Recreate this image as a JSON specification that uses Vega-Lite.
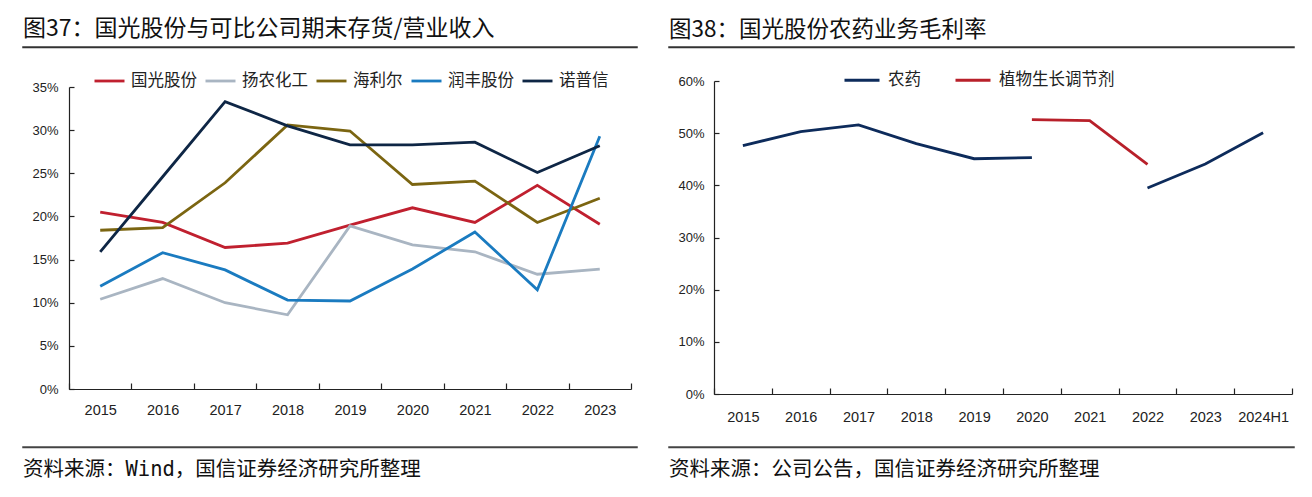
{
  "$schema": "https://vega.github.io/schema/vega-lite/v6.json",
  "padding": {"left": 22, "top": 17, "right": 0, "bottom": 0},
  "config": {
    "font": "Liberation Sans, Noto Sans CJK SC",
    "view": {"stroke": null},
    "axis": {"labelFont": "Liberation Sans", "labelColor": "#222", "domainColor": "#222", "tickColor": "#222", "domainWidth": 1.2, "tickWidth": 1.2, "grid": false, "title": null}
  },
  "spacing": 30,
  "resolve": {"scale": {"color": "independent"}, "legend": {"color": "independent"}},
  "hconcat": [
    {
      "spacing": 32,
      "vconcat": [
        {
          "width": 614, "height": 0.5,
          "view": {"stroke": "#333", "strokeWidth": 1.5},
          "title": {"text": "图37：国光股份与可比公司期末存货/营业收入", "anchor": "start", "fontSize": 23, "fontWeight": "normal", "font": "Noto Sans CJK SC", "offset": 6, "color": "#111"},
          "data": {"values": []},
          "mark": {"type": "rule"},
          "encoding": {}
        },
        {
          "spacing": 22,
          "vconcat": [
            {
              "width": 614, "height": 302,
              "data": {"values": [
                {"year": "2015", "company": "国光股份", "value": 20.5},
                {"year": "2016", "company": "国光股份", "value": 19.3},
                {"year": "2017", "company": "国光股份", "value": 16.4},
                {"year": "2018", "company": "国光股份", "value": 16.9},
                {"year": "2019", "company": "国光股份", "value": 19.0},
                {"year": "2020", "company": "国光股份", "value": 21.0},
                {"year": "2021", "company": "国光股份", "value": 19.3},
                {"year": "2022", "company": "国光股份", "value": 23.6},
                {"year": "2023", "company": "国光股份", "value": 19.1},
                {"year": "2015", "company": "扬农化工", "value": 10.4},
                {"year": "2016", "company": "扬农化工", "value": 12.8},
                {"year": "2017", "company": "扬农化工", "value": 10.0},
                {"year": "2018", "company": "扬农化工", "value": 8.6},
                {"year": "2019", "company": "扬农化工", "value": 18.9},
                {"year": "2020", "company": "扬农化工", "value": 16.7},
                {"year": "2021", "company": "扬农化工", "value": 15.9},
                {"year": "2022", "company": "扬农化工", "value": 13.3},
                {"year": "2023", "company": "扬农化工", "value": 13.9},
                {"year": "2015", "company": "海利尔", "value": 18.4},
                {"year": "2016", "company": "海利尔", "value": 18.7},
                {"year": "2017", "company": "海利尔", "value": 23.9},
                {"year": "2018", "company": "海利尔", "value": 30.6},
                {"year": "2019", "company": "海利尔", "value": 29.9},
                {"year": "2020", "company": "海利尔", "value": 23.7},
                {"year": "2021", "company": "海利尔", "value": 24.1},
                {"year": "2022", "company": "海利尔", "value": 19.3},
                {"year": "2023", "company": "海利尔", "value": 22.1},
                {"year": "2015", "company": "润丰股份", "value": 11.9},
                {"year": "2016", "company": "润丰股份", "value": 15.8},
                {"year": "2017", "company": "润丰股份", "value": 13.8},
                {"year": "2018", "company": "润丰股份", "value": 10.3},
                {"year": "2019", "company": "润丰股份", "value": 10.2},
                {"year": "2020", "company": "润丰股份", "value": 13.9},
                {"year": "2021", "company": "润丰股份", "value": 18.2},
                {"year": "2022", "company": "润丰股份", "value": 11.5},
                {"year": "2023", "company": "润丰股份", "value": 29.3},
                {"year": "2015", "company": "诺普信", "value": 15.9},
                {"year": "2016", "company": "诺普信", "value": 24.6},
                {"year": "2017", "company": "诺普信", "value": 33.3},
                {"year": "2018", "company": "诺普信", "value": 30.5},
                {"year": "2019", "company": "诺普信", "value": 28.3},
                {"year": "2020", "company": "诺普信", "value": 28.3},
                {"year": "2021", "company": "诺普信", "value": 28.6},
                {"year": "2022", "company": "诺普信", "value": 25.1},
                {"year": "2023", "company": "诺普信", "value": 28.2}
              ]},
              "mark": {"type": "line", "strokeWidth": 2.8},
              "encoding": {
                "x": {"field": "year", "type": "ordinal", "bandPosition": 0.5,
                  "scale": {"type": "band", "paddingInner": 0, "paddingOuter": 0, "range": [46, 608]},
                  "axis": {"labelAngle": 0, "tickBand": "extent", "tickSize": -6, "labelPadding": 20, "labelFontSize": 14.5, "minExtent": 35}},
                "y": {"field": "value", "type": "quantitative",
                  "scale": {"domain": [0, 35], "nice": false},
                  "axis": {"values": [0, 5, 10, 15, 20, 25, 30, 35], "labelExpr": "datum.value + '%'", "offset": -46, "tickSize": -5, "labelPadding": 16, "labelFontSize": 13}},
                "color": {"field": "company", "type": "nominal",
                  "scale": {"domain": ["国光股份", "扬农化工", "海利尔", "润丰股份", "诺普信"], "range": ["#C0202F", "#A9B5C2", "#7B6511", "#1A7BC0", "#0E2645"]},
                  "legend": {"orient": "none", "legendX": 70, "legendY": 17.5, "direction": "horizontal", "title": null, "symbolType": "stroke", "symbolSize": 900, "symbolStrokeWidth": 2.8, "labelFontSize": 16.5, "labelFont": "Noto Sans CJK SC", "labelColor": "#222", "columnPadding": 2, "labelOffset": 5}}
              }
            },
            {
              "width": 614, "height": 0.5,
              "view": {"stroke": "#444", "strokeWidth": 1.5},
              "title": {"text": "资料来源：Wind，国信证券经济研究所整理", "orient": "bottom", "anchor": "start", "fontSize": 20.5, "fontWeight": "normal", "font": "DejaVu Sans Mono, Noto Sans CJK SC", "offset": 12, "color": "#111"},
              "data": {"values": []},
              "mark": {"type": "rule"},
              "encoding": {}
            }
          ]
        }
      ]
    },
    {
      "spacing": 26,
      "vconcat": [
        {
          "width": 625, "height": 0.5,
          "view": {"stroke": "#333", "strokeWidth": 1.5},
          "title": {"text": "图38：国光股份农药业务毛利率", "anchor": "start", "fontSize": 22.5, "fontWeight": "normal", "font": "Noto Sans CJK SC", "offset": 6, "color": "#111"},
          "data": {"values": []},
          "mark": {"type": "rule"},
          "encoding": {}
        },
        {
          "spacing": 21,
          "vconcat": [
            {
              "width": 625, "height": 313,
              "data": {"values": [
                {"year": "2015", "series": "农药", "value": 47.6},
                {"year": "2016", "series": "农药", "value": 50.3},
                {"year": "2017", "series": "农药", "value": 51.6},
                {"year": "2018", "series": "农药", "value": 48.0},
                {"year": "2019", "series": "农药", "value": 45.1},
                {"year": "2020", "series": "农药", "value": 45.3},
                {"year": "2021", "series": "农药", "value": null},
                {"year": "2022", "series": "农药", "value": 39.5},
                {"year": "2023", "series": "农药", "value": 44.1},
                {"year": "2024H1", "series": "农药", "value": 50.1},
                {"year": "2020", "series": "植物生长调节剂", "value": 52.6},
                {"year": "2021", "series": "植物生长调节剂", "value": 52.4},
                {"year": "2022", "series": "植物生长调节剂", "value": 44.0}
              ]},
              "mark": {"type": "line", "strokeWidth": 2.8},
              "encoding": {
                "x": {"field": "year", "type": "ordinal", "bandPosition": 0.5,
                  "scale": {"type": "band", "paddingInner": 0, "paddingOuter": 0, "range": [45, 623], "domain": ["2015", "2016", "2017", "2018", "2019", "2020", "2021", "2022", "2023", "2024H1"]},
                  "axis": {"labelAngle": 0, "tickBand": "extent", "tickSize": -6, "labelPadding": 22, "labelFontSize": 14.5, "minExtent": 31}},
                "y": {"field": "value", "type": "quantitative",
                  "scale": {"domain": [0, 60], "nice": false},
                  "axis": {"values": [0, 10, 20, 30, 40, 50, 60], "labelExpr": "datum.value + '%'", "offset": -45, "tickSize": -5, "labelPadding": 15, "labelFontSize": 13}},
                "color": {"field": "series", "type": "nominal",
                  "scale": {"domain": ["农药", "植物生长调节剂"], "range": ["#0D2B5B", "#B8202A"]},
                  "legend": {"orient": "none", "legendX": 174, "legendY": 14, "direction": "horizontal", "title": null, "symbolType": "stroke", "symbolSize": 1225, "symbolStrokeWidth": 2.8, "labelFontSize": 16.5, "labelFont": "Noto Sans CJK SC", "labelColor": "#222", "columnPadding": 28, "labelOffset": 7}}
              }
            },
            {
              "width": 625, "height": 0.5,
              "view": {"stroke": "#444", "strokeWidth": 1.5},
              "title": {"text": "资料来源：公司公告，国信证券经济研究所整理", "orient": "bottom", "anchor": "start", "fontSize": 20.5, "fontWeight": "normal", "font": "DejaVu Sans Mono, Noto Sans CJK SC", "offset": 12, "color": "#111"},
              "data": {"values": []},
              "mark": {"type": "rule"},
              "encoding": {}
            }
          ]
        }
      ]
    }
  ]
}
